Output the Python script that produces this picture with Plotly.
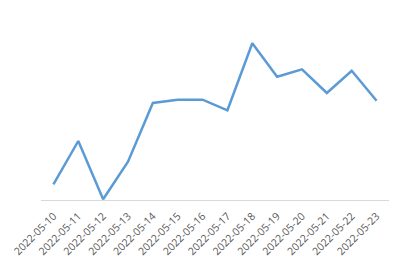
import plotly.graph_objects as go

dates = ["2022-05-10", "2022-05-11", "2022-05-12", "2022-05-13", "2022-05-14",
         "2022-05-15", "2022-05-16", "2022-05-17", "2022-05-18", "2022-05-19",
         "2022-05-20", "2022-05-21", "2022-05-22", "2022-05-23"]
values = [15.7, 59, 0.7, 38.3, 97, 100.3, 100.3, 89.7, 156.7, 123.3, 130.7, 107, 129.3, 99.3]

fig = go.Figure()
fig.add_trace(go.Scatter(x=dates, y=values, mode="lines",
                         line=dict(color="#5B9BD5", width=2.5)))
fig.update_layout(
    width=399, height=271,
    margin=dict(l=41, r=10, t=20, b=71),
    paper_bgcolor="white", plot_bgcolor="white",
    showlegend=False,
    font=dict(family="Open Sans", color="#595959", size=10.5),
)
fig.update_xaxes(type="category", tickangle=-45, showgrid=False,
                 range=[-0.5, len(dates) - 0.5],
                 showline=True, linecolor="#D9D9D9", linewidth=1,
                 ticks="", ticklabelstandoff=5,
                 tickfont=dict(size=10.5, color="#595959"))
fig.update_yaxes(range=[0, 180], showgrid=False, showticklabels=False,
                 zeroline=False, showline=False)
fig.write_html("out.html")
